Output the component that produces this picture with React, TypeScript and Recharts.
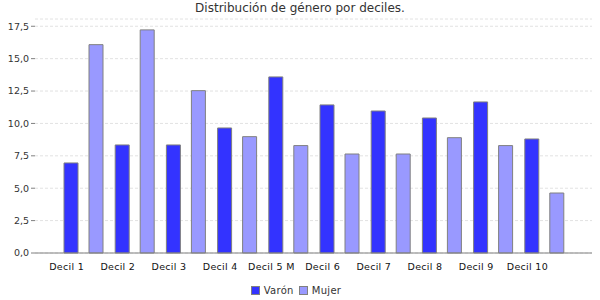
import React from 'react';
import {
  BarChart,
  Bar,
  XAxis,
  YAxis,
  CartesianGrid,
  Legend,
} from 'recharts';

const deciles = [
  'Decil 1',
  'Decil 2',
  'Decil 3',
  'Decil 4',
  'Decil 5 M',
  'Decil 6',
  'Decil 7',
  'Decil 8',
  'Decil 9',
  'Decil 10',
];
const varon = [6.95, 8.34, 8.34, 9.65, 13.59, 11.43, 10.96, 10.42, 11.66, 8.8];
const mujer = [16.08, 17.22, 12.53, 8.98, 8.29, 7.64, 7.64, 8.9, 8.29, 4.63];
const yTicks = [0, 2.5, 5, 7.5, 10, 12.5, 15, 17.5];

const VARON_COLOR = '#3333ff';
const MUJER_COLOR = '#9999ff';
const FONT = '"DejaVu Sans", sans-serif';

const data = deciles.map((name, i) => ({ name, varon: varon[i], mujer: mujer[i] }));

const DecilTick = (props: any) => {
  const { x, y, payload } = props;
  return (
    <text
      x={x - 17}
      y={y + 9}
      textAnchor="middle"
      fontSize={9.5}
      fontFamily={FONT}
      letterSpacing={0.3}
      fill="#111"
    >
      {payload.value}
    </text>
  );
};

const LegendBox = () => (
  <div
    style={{
      display: 'flex',
      justifyContent: 'center',
      gap: 5,
      paddingTop: 6,
      fontFamily: FONT,
      fontSize: 10,
      color: '#333',
      letterSpacing: 0.3,
    }}
  >
    {[
      { label: 'Varón', color: VARON_COLOR },
      { label: 'Mujer', color: MUJER_COLOR },
    ].map(item => (
      <span key={item.label} style={{ display: 'flex', alignItems: 'center' }}>
        <span
          style={{
            width: 7,
            height: 7,
            background: item.color,
            border: '1px solid #808080',
            marginRight: 4,
          }}
        />
        {item.label}
      </span>
    ))}
  </div>
);

const App: React.FC = () => {
  return (
    <div style={{ position: 'absolute', left: 0, top: 0, width: 600, height: 300, background: '#fff' }}>
      <div
        style={{
          position: 'absolute',
          top: 1,
          width: 600,
          textAlign: 'center',
          fontFamily: FONT,
          fontSize: 12,
          color: '#333',
        }}
      >
        Distribución de género por deciles.
      </div>
      <BarChart
        width={600}
        height={300}
        data={data}
        margin={{ top: 19, right: 8, left: 0, bottom: 0 }}
        barSize={14}
        barGap={11}
      >
        <CartesianGrid vertical={false} stroke="#e2e2e2" strokeDasharray="3 2" />
        <XAxis
          dataKey="name"
          height={26}
          padding={{ left: 23, right: 22 }}
          axisLine={{ stroke: '#808080' }}
          tickLine={false}
          interval={0}
          tick={<DecilTick />}
        />
        <YAxis
          width={35}
          domain={[0, 18.06]}
          ticks={yTicks}
          axisLine={false}
          tickLine={{ stroke: '#808080' }}
          tickSize={4}
          tick={{ fontSize: 9.5, fontFamily: FONT, fill: '#333' }}
          tickFormatter={(v: number) => v.toFixed(1).replace('.', ',')}
        />
        <Legend verticalAlign="bottom" height={21} content={<LegendBox />} />
        <Bar
          dataKey="varon"
          name="Varón"
          fill={VARON_COLOR}
          stroke="#808080"
          strokeWidth={1}
          isAnimationActive={false}
        />
        <Bar
          dataKey="mujer"
          name="Mujer"
          fill={MUJER_COLOR}
          stroke="#808080"
          strokeWidth={1}
          isAnimationActive={false}
        />
      </BarChart>
    </div>
  );
};

export default App;
